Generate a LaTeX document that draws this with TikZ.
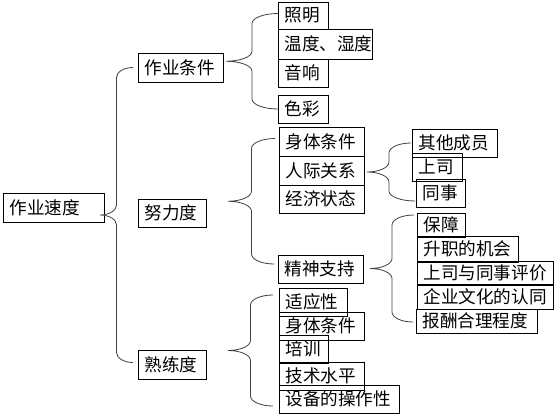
\documentclass[tikz,border=0pt]{standalone}
\usepackage{fontspec}
\newfontfamily\cjk{Noto Sans CJK SC}
\usetikzlibrary{calc}
\tikzset{
  box/.style={draw=black, line width=0.8pt, inner xsep=6.5pt, inner ysep=0pt, outer sep=0pt,
    align=left, font=\cjk\fontsize{17.6}{20}\selectfont, anchor=north west},
  brace/.style={draw=black!75, line width=0.8pt},
}
\newcommand\bx[6]{%
  \pgfmathsetlengthmacro\bxw{((#4)-(#2))*1pt}%
  \pgfmathsetlengthmacro\bxh{((#5)-(#3))*1pt}%
  \pgfmathsetlengthmacro\bxt{((#4)-(#2)-13)*1pt}%
  \node[box, minimum width=\bxw, minimum height=\bxh, text width=\bxt] (#1) at (#2,#3) {#6};}
\newcommand\curly[7]{%
 \draw[brace] let \p1=(#1.east), \p2=(#2.west), \p3=(#3.west),
   \n{ty}={\y2-(#6)}, \n{by}={\y3-(#7)}, \n{my}={(\n{ty}+\n{by})/2},
   \n{tx}={\x1+(#4)}, \n{ex}={\x2-(#5)}, \n{fx}={\x3-(#5)}, \n{vx}={(\n{tx}+\n{ex})/2}
 in ({\n{ex}*1pt},{\n{ty}*1pt})
   .. controls ({(\n{vx}+0.448*(\n{ex}-\n{vx}))*1pt},{\n{ty}*1pt}) and ({\n{vx}*1pt},{(\n{ty}-4.48)*1pt}) .. ({\n{vx}*1pt},{(\n{ty}-10)*1pt})
   -- ({\n{vx}*1pt},{(\n{my}+10)*1pt})
   .. controls ({\n{vx}*1pt},{(\n{my}+4.48)*1pt}) and ({(\n{tx}+0.552*(\n{vx}-\n{tx}))*1pt},{\n{my}*1pt}) .. ({\n{tx}*1pt},{\n{my}*1pt})
   .. controls ({(\n{tx}+0.552*(\n{vx}-\n{tx}))*1pt},{\n{my}*1pt}) and ({\n{vx}*1pt},{(\n{my}-4.48)*1pt}) .. ({\n{vx}*1pt},{(\n{my}-10)*1pt})
   -- ({\n{vx}*1pt},{(\n{by}+10)*1pt})
   .. controls ({\n{vx}*1pt},{(\n{by}+4.48)*1pt}) and ({(\n{vx}+0.448*(\n{fx}-\n{vx}))*1pt},{\n{by}*1pt}) .. ({\n{fx}*1pt},{\n{by}*1pt});
}
\begin{document}
\begin{tikzpicture}[x=1pt,y=-1pt]
\useasboundingbox (0,0) rectangle (554,420);
\bx{speed}{3}{193}{104}{222}{作业速度}
\bx{cond}{138}{53}{223}{82}{作业条件}
\bx{effort}{138}{199}{206}{227}{努力度}
\bx{skill}{138}{350}{206}{379}{熟练度}
\bx{light}{278}{2}{328}{29}{照明}
\bx{temp}{278}{29}{372}{59}{温度、湿度}
\bx{sound}{278}{59}{328}{87}{音响}
\bx{color}{278}{95}{328}{123}{色彩}
\bx{body}{279}{127}{364}{156}{身体条件}
\bx{rel}{279}{156}{364}{185}{人际关系}
\bx{econ}{279}{185}{364}{213}{经济状态}
\bx{spirit}{278}{255}{363}{283}{精神支持}
\bx{other}{412}{129}{497}{157}{其他成员}
\bx{boss}{412}{153}{462}{181}{上司}
\bx{coll}{416}{179}{465}{207}{同事}
\bx{secure}{417}{213}{465}{237}{保障}
\bx{promo}{417}{236}{518}{262}{升职的机会}
\bx{eval}{417}{261}{553}{284}{上司与同事评价}
\bx{culture}{417}{285}{553}{309}{企业文化的认同}
\bx{pay}{416}{309}{537}{333}{报酬合理程度}
\bx{adapt}{279}{288}{347}{316}{适应性}
\bx{body2}{279}{312}{364}{340}{身体条件}
\bx{train}{279}{335}{328}{363}{培训}
\bx{tech}{279}{362}{364}{390}{技术水平}
\bx{equip}{279}{385}{399}{413}{设备的操作性}
\curly{speed}{cond}{skill}{-4}{5}{0}{-2}
\curly{cond}{light}{color}{3}{0}{-2}{0}
\curly{effort}{body}{spirit}{22}{4}{-3}{-5}
\curly{rel}{other}{coll}{3}{1}{0}{8}
\curly{spirit}{secure}{pay}{7}{3}{-10}{1}
\curly{skill}{adapt}{equip}{22}{6}{-7}{7}
\end{tikzpicture}
\end{document}
